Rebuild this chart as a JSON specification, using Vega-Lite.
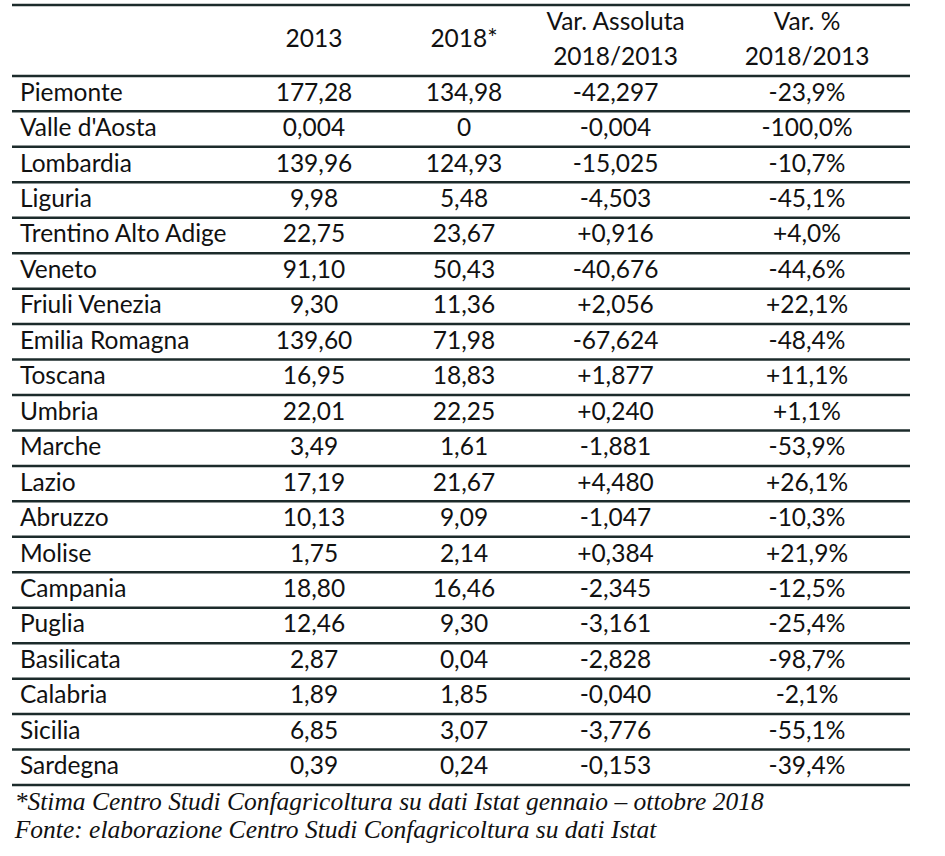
{
  "$schema": "https://vega.github.io/schema/vega-lite/v6.json",
  "background": "white",
  "padding": {"left": 10, "top": 3, "right": 0, "bottom": 0},
  "spacing": 0,
  "bounds": "flush",
  "config": {
    "view": {"stroke": null},
    "concat": {"spacing": 0},
    "text": {"font": "Lato", "fontSize": 24.5, "color": "#111111", "baseline": "middle"},
    "rule": {"color": "#1c2b2b", "strokeWidth": 2.5}
  },
  "datasets": {
    "table": [
      {"row": "h1", "Regione": "", "v2013": "2013", "v2018": "2018*", "abs": "Var. Assoluta", "pct": "Var. %"},
      {"row": "h2", "Regione": "", "v2013": "", "v2018": "", "abs": "2018/2013", "pct": "2018/2013"},
      {"row": "Piemonte", "Regione": "Piemonte", "v2013": "177,28", "v2018": "134,98", "abs": "-42,297", "pct": "-23,9%"},
      {"row": "Valle d'Aosta", "Regione": "Valle d'Aosta", "v2013": "0,004", "v2018": "0", "abs": "-0,004", "pct": "-100,0%"},
      {"row": "Lombardia", "Regione": "Lombardia", "v2013": "139,96", "v2018": "124,93", "abs": "-15,025", "pct": "-10,7%"},
      {"row": "Liguria", "Regione": "Liguria", "v2013": "9,98", "v2018": "5,48", "abs": "-4,503", "pct": "-45,1%"},
      {"row": "Trentino Alto Adige", "Regione": "Trentino Alto Adige", "v2013": "22,75", "v2018": "23,67", "abs": "+0,916", "pct": "+4,0%"},
      {"row": "Veneto", "Regione": "Veneto", "v2013": "91,10", "v2018": "50,43", "abs": "-40,676", "pct": "-44,6%"},
      {"row": "Friuli Venezia", "Regione": "Friuli Venezia", "v2013": "9,30", "v2018": "11,36", "abs": "+2,056", "pct": "+22,1%"},
      {"row": "Emilia Romagna", "Regione": "Emilia Romagna", "v2013": "139,60", "v2018": "71,98", "abs": "-67,624", "pct": "-48,4%"},
      {"row": "Toscana", "Regione": "Toscana", "v2013": "16,95", "v2018": "18,83", "abs": "+1,877", "pct": "+11,1%"},
      {"row": "Umbria", "Regione": "Umbria", "v2013": "22,01", "v2018": "22,25", "abs": "+0,240", "pct": "+1,1%"},
      {"row": "Marche", "Regione": "Marche", "v2013": "3,49", "v2018": "1,61", "abs": "-1,881", "pct": "-53,9%"},
      {"row": "Lazio", "Regione": "Lazio", "v2013": "17,19", "v2018": "21,67", "abs": "+4,480", "pct": "+26,1%"},
      {"row": "Abruzzo", "Regione": "Abruzzo", "v2013": "10,13", "v2018": "9,09", "abs": "-1,047", "pct": "-10,3%"},
      {"row": "Molise", "Regione": "Molise", "v2013": "1,75", "v2018": "2,14", "abs": "+0,384", "pct": "+21,9%"},
      {"row": "Campania", "Regione": "Campania", "v2013": "18,80", "v2018": "16,46", "abs": "-2,345", "pct": "-12,5%"},
      {"row": "Puglia", "Regione": "Puglia", "v2013": "12,46", "v2018": "9,30", "abs": "-3,161", "pct": "-25,4%"},
      {"row": "Basilicata", "Regione": "Basilicata", "v2013": "2,87", "v2018": "0,04", "abs": "-2,828", "pct": "-98,7%"},
      {"row": "Calabria", "Regione": "Calabria", "v2013": "1,89", "v2018": "1,85", "abs": "-0,040", "pct": "-2,1%"},
      {"row": "Sicilia", "Regione": "Sicilia", "v2013": "6,85", "v2018": "3,07", "abs": "-3,776", "pct": "-55,1%"},
      {"row": "Sardegna", "Regione": "Sardegna", "v2013": "0,39", "v2018": "0,24", "abs": "-0,153", "pct": "-39,4%"}
    ]
  },
  "data": {"name": "table"},
  "title": {
    "text": "*Stima Centro Studi Confagricoltura su dati Istat gennaio – ottobre 2018",
    "subtitle": "Fonte: elaborazione Centro Studi Confagricoltura su dati Istat",
    "orient": "bottom",
    "anchor": "start",
    "offset": 4,
    "dx": 4,
    "font": "Liberation Serif",
    "fontStyle": "italic",
    "fontWeight": "normal",
    "fontSize": 25.5,
    "color": "#111111",
    "subtitleFont": "Liberation Serif",
    "subtitleFontStyle": "italic",
    "subtitleFontSize": 25.5,
    "subtitleColor": "#111111",
    "subtitlePadding": 2
  },
  "hconcat": [
    {
      "width": 227, "height": 780,
      "encoding": {"y": {"field": "row", "type": "nominal", "axis": null, "scale": {"paddingInner": 0, "paddingOuter": 0, "domain": ["h1","h2","Piemonte","Valle d'Aosta","Lombardia","Liguria","Trentino Alto Adige","Veneto","Friuli Venezia","Emilia Romagna","Toscana","Umbria","Marche","Lazio","Abruzzo","Molise","Campania","Puglia","Basilicata","Calabria","Sicilia","Sardegna"]}}},
      "layer": [
        {"transform": [{"filter": "datum.row !== 'h1'"}], "mark": "rule", "encoding": {"y": {"field": "row", "type": "nominal", "bandPosition": 1}}},
        {"transform": [{"filter": "datum.row === 'h1'"}], "mark": "rule", "encoding": {"y": {"field": "row", "type": "nominal", "bandPosition": 0}}},
        {"mark": {"type": "text", "align": "left", "dx": 8}, "encoding": {"x": {"value": 0}, "text": {"field": "Regione"}}}
      ]
    },
    {
      "width": 150, "height": 780,
      "encoding": {"y": {"field": "row", "type": "nominal", "axis": null, "scale": {"paddingInner": 0, "paddingOuter": 0, "domain": ["h1","h2","Piemonte","Valle d'Aosta","Lombardia","Liguria","Trentino Alto Adige","Veneto","Friuli Venezia","Emilia Romagna","Toscana","Umbria","Marche","Lazio","Abruzzo","Molise","Campania","Puglia","Basilicata","Calabria","Sicilia","Sardegna"]}}},
      "layer": [
        {"transform": [{"filter": "datum.row !== 'h1'"}], "mark": "rule", "encoding": {"y": {"field": "row", "type": "nominal", "bandPosition": 1}}},
        {"transform": [{"filter": "datum.row === 'h1'"}], "mark": "rule", "encoding": {"y": {"field": "row", "type": "nominal", "bandPosition": 0}}},
        {"transform": [{"filter": "datum.row !== 'h1'"}], "mark": {"type": "text"}, "encoding": {"text": {"field": "v2013"}}},
        {"transform": [{"filter": "datum.row === 'h1'"}], "mark": {"type": "text"}, "encoding": {"y": {"field": "row", "type": "nominal", "bandPosition": 1}, "text": {"field": "v2013"}}}
      ]
    },
    {
      "width": 150, "height": 780,
      "encoding": {"y": {"field": "row", "type": "nominal", "axis": null, "scale": {"paddingInner": 0, "paddingOuter": 0, "domain": ["h1","h2","Piemonte","Valle d'Aosta","Lombardia","Liguria","Trentino Alto Adige","Veneto","Friuli Venezia","Emilia Romagna","Toscana","Umbria","Marche","Lazio","Abruzzo","Molise","Campania","Puglia","Basilicata","Calabria","Sicilia","Sardegna"]}}},
      "layer": [
        {"transform": [{"filter": "datum.row !== 'h1'"}], "mark": "rule", "encoding": {"y": {"field": "row", "type": "nominal", "bandPosition": 1}}},
        {"transform": [{"filter": "datum.row === 'h1'"}], "mark": "rule", "encoding": {"y": {"field": "row", "type": "nominal", "bandPosition": 0}}},
        {"transform": [{"filter": "datum.row !== 'h1'"}], "mark": {"type": "text"}, "encoding": {"text": {"field": "v2018"}}},
        {"transform": [{"filter": "datum.row === 'h1'"}], "mark": {"type": "text"}, "encoding": {"y": {"field": "row", "type": "nominal", "bandPosition": 1}, "text": {"field": "v2018"}}}
      ]
    },
    {
      "width": 153, "height": 780,
      "encoding": {"y": {"field": "row", "type": "nominal", "axis": null, "scale": {"paddingInner": 0, "paddingOuter": 0, "domain": ["h1","h2","Piemonte","Valle d'Aosta","Lombardia","Liguria","Trentino Alto Adige","Veneto","Friuli Venezia","Emilia Romagna","Toscana","Umbria","Marche","Lazio","Abruzzo","Molise","Campania","Puglia","Basilicata","Calabria","Sicilia","Sardegna"]}}},
      "layer": [
        {"transform": [{"filter": "datum.row !== 'h1'"}], "mark": "rule", "encoding": {"y": {"field": "row", "type": "nominal", "bandPosition": 1}}},
        {"transform": [{"filter": "datum.row === 'h1'"}], "mark": "rule", "encoding": {"y": {"field": "row", "type": "nominal", "bandPosition": 0}}},
        {"mark": {"type": "text"}, "encoding": {"text": {"field": "abs"}}}
      ]
    },
    {
      "width": 218, "height": 780,
      "encoding": {"y": {"field": "row", "type": "nominal", "axis": null, "scale": {"paddingInner": 0, "paddingOuter": 0, "domain": ["h1","h2","Piemonte","Valle d'Aosta","Lombardia","Liguria","Trentino Alto Adige","Veneto","Friuli Venezia","Emilia Romagna","Toscana","Umbria","Marche","Lazio","Abruzzo","Molise","Campania","Puglia","Basilicata","Calabria","Sicilia","Sardegna"]}}},
      "layer": [
        {"transform": [{"filter": "datum.row !== 'h1'"}], "mark": "rule", "encoding": {"y": {"field": "row", "type": "nominal", "bandPosition": 1}}},
        {"transform": [{"filter": "datum.row === 'h1'"}], "mark": "rule", "encoding": {"y": {"field": "row", "type": "nominal", "bandPosition": 0}}},
        {"mark": {"type": "text", "dx": 6}, "encoding": {"text": {"field": "pct"}}}
      ]
    }
  ]
}
